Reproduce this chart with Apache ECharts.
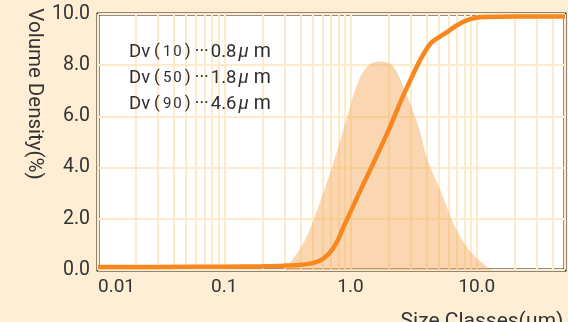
<!DOCTYPE html>
<html>
<head>
<meta charset="utf-8">
<script src="https://cdn.jsdelivr.net/npm/echarts@6/dist/echarts.min.js"></script>
<style>
html,body{margin:0;padding:0;background:#fdeed5;}
#c{width:568px;height:322px;}
</style>
</head>
<body>
<div id="c"></div>
<script>
// Cumulative curve (size in µm, cumulative value on 0-10 scale)
const cumSizes = [0.01, 0.03, 0.1, 0.2, 0.3, 0.4, 0.5, 0.58, 0.65, 0.73, 0.8, 0.88, 1.0, 1.14, 1.3, 1.5, 1.72, 2.07, 2.48, 2.96, 3.56, 4.26, 4.97, 5.77, 6.92, 8.3, 9.95, 11.9, 19.2, 50];
const cumValues = [0.12, 0.12, 0.13, 0.15, 0.17, 0.2, 0.27, 0.38, 0.56, 0.85, 1.2, 1.68, 2.27, 2.88, 3.48, 4.12, 4.75, 5.62, 6.55, 7.38, 8.2, 8.82, 9.08, 9.28, 9.55, 9.75, 9.85, 9.88, 9.9, 9.9];
// Density distribution
const denSizes = [0.3, 0.34, 0.43, 0.55, 0.75, 0.95, 1.16, 1.39, 1.72, 2.18, 2.86, 3.56, 4.04, 5.27, 6.7, 8.5, 10.6, 13];
const denValues = [0, 0.35, 1.1, 2.4, 4.35, 6.05, 7.4, 8.0, 8.14, 7.95, 6.7, 5.4, 4.35, 3.0, 1.7, 0.85, 0.35, 0];
// Grid line sizes (log minor lines)
const minorSizes = [0.02, 0.03, 0.04, 0.05, 0.06, 0.07, 0.08, 0.09,
  0.2, 0.3, 0.4, 0.5, 0.6, 0.7, 0.8, 0.9,
  2, 3, 4, 5, 6, 7, 8, 9,
  20, 30, 40];
// Tick labels
const yTicks = [0, 2, 4, 6, 8, 10];
const dvLabels = ['10', '50', '90'];
const dvValues = ['0.8', '1.8', '4.6'];

const font = 'Roboto';
const ink = '#2e2e2e';
const chart = echarts.init(document.getElementById('c'));
const graphics = [];
dvLabels.forEach((lab, i) => {
  graphics.push({
    type: 'text', left: 129, top: 42 + i * 26, z: 10,
    style: {
      text: '{a|Dv}{p|(}{b|' + lab[0] + '}{b|' + lab[1] + '}{q|)}{d|···}{a|' + dvValues[i] + '}{c|μ}{m|m}',
      rich: {
        a: {fontSize: 18.5, fontFamily: font, fill: ink},
        m: {fontSize: 19.5, fontFamily: font, fill: ink, padding: [0, 0, 0, 3]},
        p: {fontSize: 17, fontFamily: font, fill: ink, padding: [0, 2, 0, 4]},
        q: {fontSize: 17, fontFamily: font, fill: ink, padding: [0, 3, 0, 2]},
        b: {fontSize: 15, fontFamily: font, fill: ink, padding: [1, 1, 0, 1]},
        d: {fontSize: 18, fontFamily: font, fill: ink, padding: [0, 2, 0, 1]},
        c: {fontSize: 18.5, fontFamily: font, fontStyle: 'italic', fill: ink, padding: [0, 2, 0, 2]}
      }
    }
  });
});
graphics.push({
  type: 'text', x: 34, y: 94, rotation: -Math.PI / 2,
  style: {text: 'Volume Density(%)', fontSize: 20.5, fontFamily: font, fill: '#333', align: 'center', verticalAlign: 'middle'}
});
graphics.push({
  type: 'text', x: 482, y: 322,
  style: {text: 'Size Classes(μm)', fontSize: 21, fontFamily: font, fill: '#333', align: 'center', verticalAlign: 'middle'}
});

chart.setOption({
  backgroundColor: '#fdeed5',
  animation: false,
  grid: {left: 98, top: 14, right: 3, bottom: 52, show: true, backgroundColor: '#ffffff', borderColor: '#231f1f', borderWidth: 3, containLabel: false},
  xAxis: {
    type: 'log', logBase: 10, min: 0.01, max: 50,
    axisLine: {show: false}, axisTick: {show: false},
    splitLine: {show: true, lineStyle: {color: '#fdebc9', width: 2}},
    axisLabel: {
      fontSize: 19, fontFamily: font, color: '#333', margin: 8,
      alignMinLabel: 'left', showMaxLabel: false,
      formatter: v => (v < 1 ? String(+v.toPrecision(1)) : v.toFixed(1))
    }
  },
  yAxis: {
    type: 'value', min: 0, max: 10, interval: 2,
    axisLine: {show: false}, axisTick: {show: false},
    splitLine: {show: true, lineStyle: {color: '#fdebc9', width: 2}},
    axisLabel: {fontSize: 19.5, fontFamily: font, color: '#333', margin: 8, formatter: v => v.toFixed(1)}
  },
  graphic: graphics,
  series: [
    {
      type: 'line', data: [], z: 1, silent: true,
      markLine: {
        silent: true, symbol: 'none', z: 1, label: {show: false},
        lineStyle: {color: '#fdebc9', width: 2, type: 'solid'},
        data: minorSizes.map(v => ({xAxis: v}))
      }
    },
    {
      type: 'line', z: 3, smooth: 0.35, symbol: 'none',
      lineStyle: {width: 0},
      areaStyle: {color: 'rgba(245,166,85,0.45)', opacity: 1},
      data: denSizes.map((s, i) => [s, denValues[i]])
    },
    {
      type: 'line', z: 4, smooth: 0.3, symbol: 'none',
      lineStyle: {width: 4.5, color: '#f7871e'},
      data: cumSizes.map((s, i) => [s, cumValues[i]])
    }
  ]
});
</script>
</body>
</html>
